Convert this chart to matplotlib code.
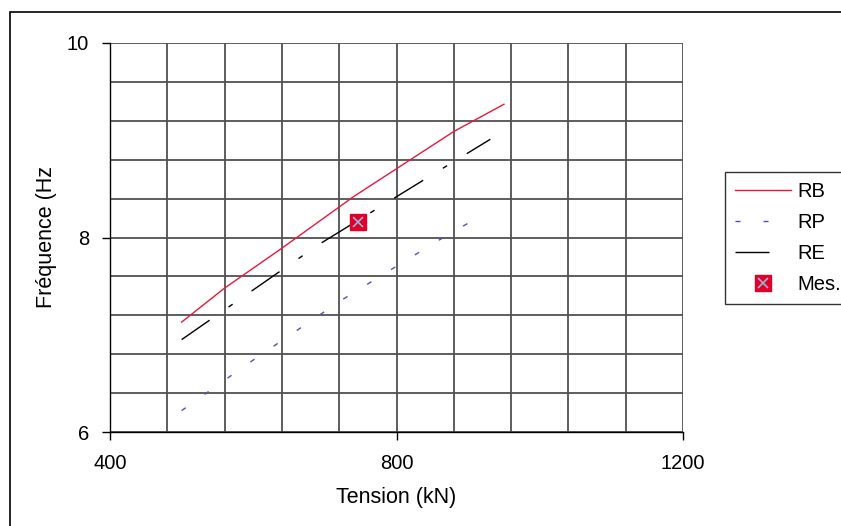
import matplotlib
matplotlib.use("Agg")
import matplotlib.pyplot as plt
from matplotlib.patches import Rectangle
from matplotlib.ticker import MultipleLocator
from matplotlib.lines import Line2D

plt.rcParams['font.family'] = ['Liberation Sans', 'DejaVu Sans']
plt.rcParams['lines.scale_dashes'] = False

# Data
rb_x = [500, 560, 640, 740, 880, 950]
rb_y = [7.13, 7.48, 7.89, 8.42, 9.09, 9.37]

rp_x = [500, 596, 722, 854, 924]
rp_y = [6.22, 6.72, 7.35, 7.95, 8.25]

re_x = [500, 633, 692, 831, 931]
re_y = [6.95, 7.63, 7.93, 8.56, 9.01]

mes_x = [746]
mes_y = [8.16]

x_ticks = [400, 800, 1200]
y_ticks = [6, 8, 10]

RB_STYLE = dict(color='#e8183c', linewidth=1.0)
RP_STYLE = dict(color='#5050b8', linewidth=1.0, dashes=(3.6, 16.6))
RE_STYLE = dict(color='black', linewidth=1.0, dashes=(24.5, 16.6, 3.6, 16.6))
SQ_STYLE = dict(linestyle='none', marker='s', markersize=11, color='#e0002a',
                markeredgecolor='#e0002a')
X_STYLE = dict(linestyle='none', marker='x', markersize=7.5, color='#90b8d8',
               markeredgewidth=1.2)

W, H = 841, 526
fig = plt.figure(figsize=(W / 100, H / 100), dpi=100)

# outer frame (extends past right and bottom edges)
fig.patches.append(Rectangle((10 / W, -0.1), 1.2, 1.1 - 12 / H, transform=fig.transFigure,
                             fill=False, edgecolor='black', linewidth=1.2, clip_on=False))

ax = fig.add_axes([110 / W, 1 - 432 / H, (683 - 110) / W, (432 - 43) / H])
ax.set_xlim(400, 1200)
ax.set_ylim(6, 10)
ax.set_xticks(x_ticks)
ax.set_yticks(y_ticks)
ax.xaxis.set_minor_locator(MultipleLocator(80))
ax.yaxis.set_minor_locator(MultipleLocator(0.4))
ax.grid(which='both', color='#505050', linewidth=1.3)
ax.tick_params(which='minor', length=0)
ax.tick_params(axis='x', which='major', direction='out', length=6, width=1,
               labelsize=14.5, pad=10)
ax.tick_params(axis='y', which='major', direction='out', length=6, width=1,
               labelsize=14.5, pad=9)
for s in ['top', 'right']:
    ax.spines[s].set_visible(False)
for s in ['left', 'bottom']:
    ax.spines[s].set_linewidth(1.0)
ax.set_axisbelow(True)

ax.plot(rb_x, rb_y, label='RB', **RB_STYLE)
ax.plot(rp_x, rp_y, label='RP', **RP_STYLE)
ax.plot(re_x, re_y, label='RE', **RE_STYLE)
ax.plot(mes_x, mes_y, zorder=5, **SQ_STYLE)
ax.plot(mes_x, mes_y, zorder=6, **X_STYLE)

ax.set_xlabel('Tension (kN)', fontsize=15.5, labelpad=10)
ax.set_ylabel('Fréquence (Hz', fontsize=15.5, labelpad=7)

handles = [
    Line2D([], [], **RB_STYLE),
    Line2D([], [], **RP_STYLE),
    Line2D([], [], **RE_STYLE),
    (Line2D([], [], **SQ_STYLE), Line2D([], [], **X_STYLE)),
]
labels = ['RB', 'RP', 'RE', 'Mes.']
leg = fig.legend(handles, labels, loc='upper left', bbox_to_anchor=(725 / W, 1 - 172 / H),
                 fontsize=14.5, frameon=True, fancybox=False, edgecolor='black',
                 handlelength=2.8, handletextpad=0.28, labelspacing=0.6, borderpad=0.5,
                 borderaxespad=0)
leg.get_frame().set_linewidth(1.0)

fig.savefig('out.png', dpi=100)
